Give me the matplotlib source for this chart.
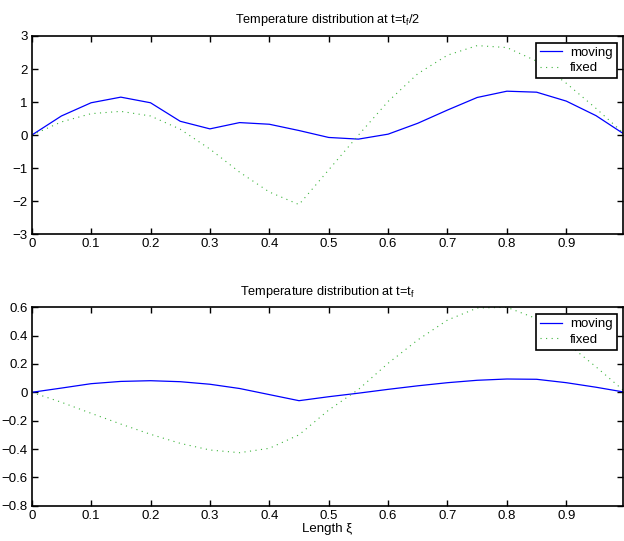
import matplotlib
matplotlib.use("Agg")
import matplotlib.pyplot as plt

plt.rcParams['font.family'] = ['Liberation Sans', 'DejaVu Sans']
plt.rcParams['mathtext.fontset'] = 'custom'
plt.rcParams['mathtext.rm'] = 'Liberation Sans'

xi = [0.0, 0.05, 0.1, 0.15, 0.2, 0.25, 0.3, 0.35, 0.4, 0.45, 0.5,
      0.55, 0.6, 0.65, 0.7, 0.75, 0.8, 0.85, 0.9, 0.95, 1.0]

# t = tf/2
half_moving = [0.0, 0.58, 0.98, 1.15, 0.98, 0.42, 0.19, 0.38, 0.33, 0.14, -0.07,
               -0.12, 0.03, 0.36, 0.76, 1.14, 1.33, 1.30, 1.03, 0.59, 0.0]
half_fixed = [0.0, 0.40, 0.65, 0.72, 0.58, 0.18, -0.42, -1.12, -1.72, -2.10, -1.05,
              0.0, 1.02, 1.86, 2.42, 2.71, 2.65, 2.24, 1.57, 0.81, 0.0]

# t = tf
end_moving = [0.0, 0.030, 0.061, 0.077, 0.082, 0.075, 0.057, 0.027, -0.016, -0.059, -0.031,
              -0.006, 0.021, 0.046, 0.068, 0.085, 0.094, 0.092, 0.068, 0.036, 0.0]
end_fixed = [0.0, -0.07, -0.148, -0.224, -0.296, -0.36, -0.407, -0.426, -0.395, -0.30, -0.125,
             0.02, 0.205, 0.37, 0.51, 0.595, 0.60, 0.52, 0.35, 0.18, 0.0]

xticks = [0, 0.1, 0.2, 0.3, 0.4, 0.5, 0.6, 0.7, 0.8, 0.9]
xticklabels = ['0', '0.1', '0.2', '0.3', '0.4', '0.5', '0.6', '0.7', '0.8', '0.9']
top_yticks = [-3, -2, -1, 0, 1, 2, 3]
top_ylabels = ['\u22123', '\u22122', '\u22121', '0', '1', '2', '3']
bot_yticks = [-0.8, -0.6, -0.4, -0.2, 0, 0.2, 0.4, 0.6]
bot_ylabels = ['\u22120.8', '\u22120.6', '\u22120.4', '\u22120.2', '0', '0.2', '0.4', '0.6']

W, H = 624, 541
fig = plt.figure(figsize=(W/100, H/100), dpi=100)
left = 31.7/W
width = 0.995*594/W
ax1 = fig.add_axes([left, 1-234.3/H, width, (234.3-36)/H])
ax2 = fig.add_axes([left, 1-505.7/H, width, (505.7-307.3)/H])

fs = 9.5
for ax, mv, fx, yt, yl, ylim, title in [
        (ax1, half_moving, half_fixed, top_yticks, top_ylabels, (-3, 3),
         'Temperature distribution at t=t$_\\mathregular{f}$/2'),
        (ax2, end_moving, end_fixed, bot_yticks, bot_ylabels, (-0.8, 0.6),
         'Temperature distribution at t=t$_\\mathregular{f}$')]:
    ax.plot(xi, mv, '-', color='#0000ff', linewidth=0.9, label='moving')
    ax.plot(xi, fx, linestyle=(0, (1, 4)), color='#3cb43c', linewidth=0.8, label='fixed')
    ax.set_xlim(0, 0.995)
    ax.set_ylim(*ylim)
    ax.set_xticks(xticks)
    ax.set_xticklabels(xticklabels, fontsize=fs)
    ax.set_yticks(yt)
    ax.set_yticklabels(yl, fontsize=fs)
    ax.tick_params(direction='in', length=4, width=1.0, top=True, right=True, pad=3)
    for s in ax.spines.values():
        s.set_linewidth(1.2)
    ax.set_title(title, fontsize=fs-0.3, pad=9)
    leg = ax.legend(loc='upper right', bbox_to_anchor=(0.990, 0.966), borderaxespad=0,
                    fontsize=fs, fancybox=False, framealpha=1, handlelength=1.7,
                    handletextpad=0.6, borderpad=0.3, labelspacing=0.25)
    leg.get_frame().set_edgecolor('black')
    leg.get_frame().set_linewidth(1.2)

ax2.set_xlabel('Length \u03be', fontsize=fs, labelpad=1)

fig.savefig('out.png', dpi=100)
